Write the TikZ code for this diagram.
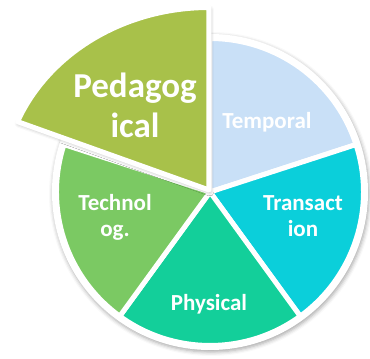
\documentclass[tikz,border=0pt]{standalone}
\usepackage{fontspec}
\setmainfont{Carlito}
\definecolor{pedaolive}{RGB}{168,193,74}
\definecolor{tempblue}{RGB}{201,224,247}
\definecolor{transcyan}{RGB}{11,207,218}
\definecolor{physgreen}{RGB}{19,207,154}
\definecolor{technogreen}{RGB}{123,201,99}
\usetikzlibrary{shadows.blur}

\begin{document}
\begin{tikzpicture}[x=1pt,y=1pt,
    slice/.style={draw=white,line width=5pt,line join=round},
    softshadow/.style={blur shadow={shadow xshift=1pt,shadow yshift=-2pt,shadow blur radius=4pt,shadow opacity=35}},
    bigtext/.style={text=white,font=\bfseries\fontsize{35}{40}\selectfont,align=center},
    segtext/.style={text=white,font=\bfseries\fontsize{23}{26}\selectfont,align=center}]
    % Canvas
    \useasboundingbox (-210,-167) rectangle (160,192);

    % White base disc
    \fill[white,softshadow] (0,0) circle (158);

    % Temporal
    \filldraw[slice,fill=tempblue] (0,0) -- (18:153.5) arc[start angle=18,end angle=90,radius=153.5] -- cycle;
    % Transaction
    \filldraw[slice,fill=transcyan] (0,0) -- (-54:153.5) arc[start angle=-54,end angle=18,radius=153.5] -- cycle;
    % Physical
    \filldraw[slice,fill=physgreen] (0,0) -- (-126:153.5) arc[start angle=-126,end angle=-54,radius=153.5] -- cycle;
    % Technolog.
    \filldraw[slice,fill=technogreen] (0,0) -- (162:153.5) arc[start angle=162,end angle=234,radius=153.5] -- cycle;

    % Pedagogical (pulled out)
    \filldraw[slice,fill=pedaolive,softshadow] (-1,2) -- ++(0,182.5)
        arc[start angle=90,end angle=158,x radius=206.5,y radius=182.5] -- cycle;

    % Labels
    \node[bigtext] (pedagogical) at (-75,86.5) {Pedagog\\ical};
    \node[segtext] (temporal) at (57,70) {Temporal};
    \node[segtext] (transaction) at (93,-24.5) {Transact\\ion};
    \node[segtext] (technolog) at (-95,-25) {Technol\\og.};
    \node[segtext] (physical) at (-1,-112) {Physical};
\end{tikzpicture}
\end{document}
